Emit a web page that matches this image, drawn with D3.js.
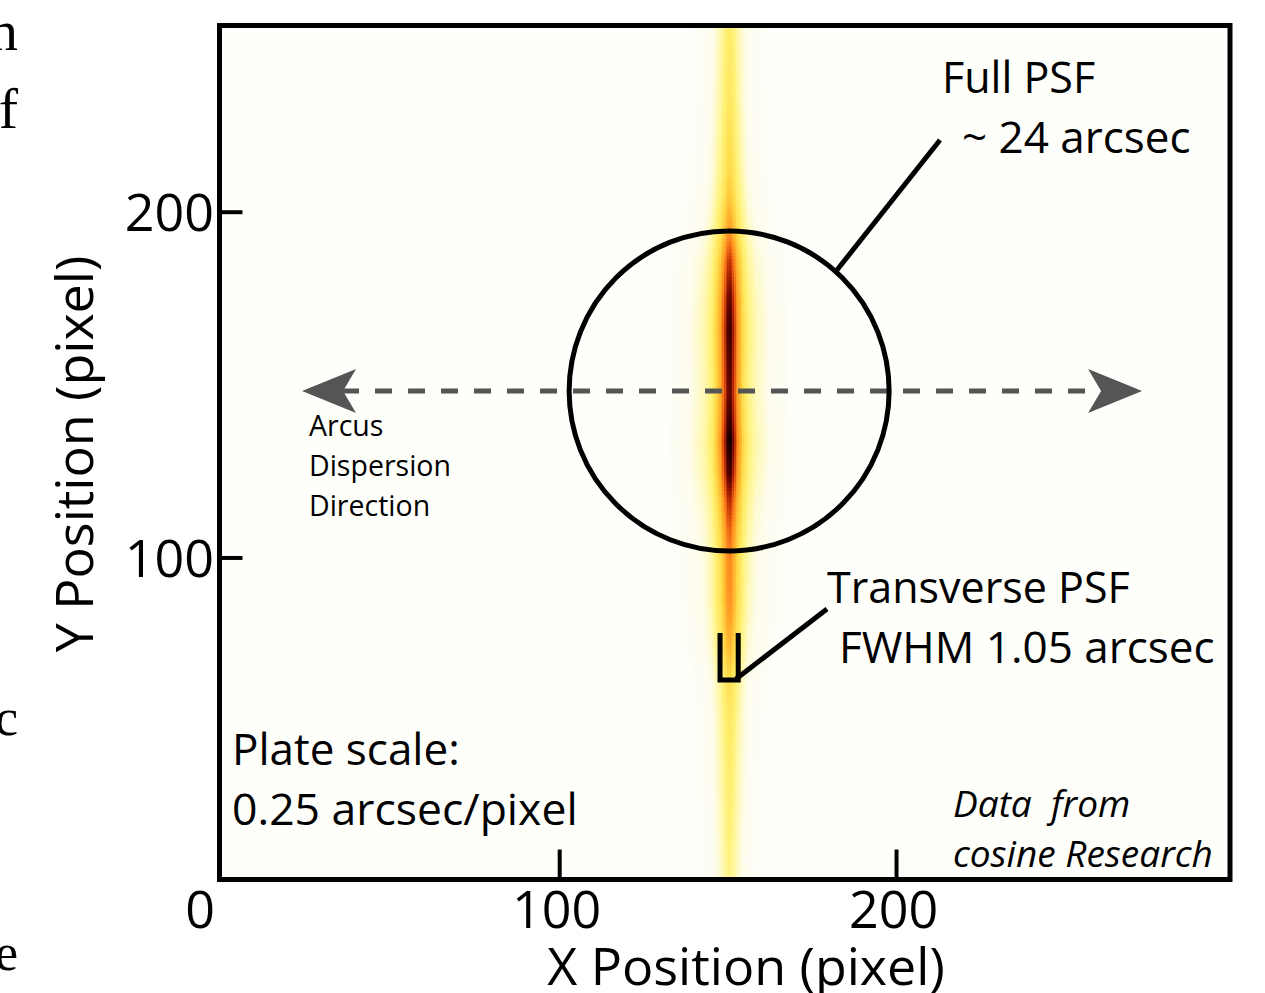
<!DOCTYPE html>
<meta charset="utf-8">
<head>
  <title>Arcus PSF</title>
</head>
<style>
body { margin: 0; background: #fff; }
svg { display: block; font-family: "Open Sans", sans-serif; }
</style>
<body>
<svg id="chart" width="1265" height="993"></svg>
<script src="https://cdnjs.cloudflare.com/ajax/libs/d3/7.8.5/d3.min.js"></script>
<script>
// tick values
var xTicks = [100, 200];
var yTicks = [100, 200];

// peak intensity of the streak along y (0 = blank, 1 = black)
var rowY    = [8, 18, 36, 53, 65, 76, 88, 99, 108, 117, 125, 134, 140, 148, 157, 166, 175, 186, 195, 204, 212, 233, 254];
var rowPeak = [0.07, 0.08, 0.1, 0.12, 0.16, 0.3, 0.4, 0.42, 0.5, 0.66, 0.88, 1.0, 0.9, 0.82, 0.86, 0.9, 0.82, 0.62, 0.36, 0.24, 0.18, 0.13, 0.11];

// transverse fall-off of the streak (offset in pixels from the centre)
var crossOffset = [0, 0.6, 1.2, 2, 3, 4, 5.3, 7.4, 12, 20];
var crossLevel  = [1, 0.92, 0.75, 0.52, 0.34, 0.2, 0.1, 0.045, 0.014, 0];
var streakX = 150.4;

// colour map
var cmapLevel = [0, 0.015, 0.04, 0.08, 0.16, 0.28, 0.4, 0.52, 0.64, 0.76, 0.88, 1];
var cmapColor = ["#fefefa", "#fefcea", "#fff8b0", "#fff27a", "#ffe050", "#ffb830", "#ff9020", "#e85c10", "#b82c02", "#780a00", "#3c0000", "#080000"];

// annotation geometry (data pixels)
var psfCircle = {x: 150.3, y: 148.3, r: 47.5};
var arrowEnds = [23.5, 272.9];
var fwhmBox = [147.6, 153, 78.3, 64.7];

var svg = d3.select("#chart");
var x = d3.scaleLinear().domain([-1, 299]).range([219.5, 1230]);
var y = d3.scaleLinear().domain([7, 254]).range([879.5, 25.5]);

var peak = d3.scaleLinear().domain(rowY).range(rowPeak).clamp(true);
var cross = d3.scaleLinear().domain(crossOffset).range(crossLevel).clamp(true);
var color = d3.scaleLinear().domain(cmapLevel).range(cmapColor).clamp(true);

// page text cut off at the left edge
var serif = [["n", 50, 58], ["f", 128, 58], ["c", 735, 52], ["e", 970, 52]];
svg.selectAll("text.page").data(serif).enter().append("text")
  .attr("class", "page")
  .attr("x", 18).attr("y", d => d[1])
  .attr("text-anchor", "end")
  .style("font-family", "'Liberation Serif', serif")
  .style("font-size", d => d[2] + "px")
  .text(d => d[0]);

// plot background
svg.append("rect")
  .attr("x", x(-1)).attr("y", y(254))
  .attr("width", x(299) - x(-1)).attr("height", y(7) - y(254))
  .attr("fill", cmapColor[0]);

// heat map cells
var cells = [];
d3.range(8, 254, 1).forEach(function(yy) {
  d3.range(128, 173, 0.5).forEach(function(xx) {
    var v = peak(yy) * cross(Math.abs(xx - streakX));
    if (v > 0.003) cells.push({x: xx, y: yy, v: v});
  });
});
var cw = x(0.5) - x(0), ch = y(0) - y(1);
svg.append("g").selectAll("rect").data(cells).enter().append("rect")
  .attr("x", d => x(d.x) - cw / 2)
  .attr("y", d => y(d.y) - ch / 2)
  .attr("width", cw + 0.6)
  .attr("height", ch + 0.6)
  .attr("fill", d => color(d.v))
  .attr("shape-rendering", "crispEdges");

// frame
svg.append("rect")
  .attr("x", x(-1)).attr("y", y(254))
  .attr("width", x(299) - x(-1)).attr("height", y(7) - y(254))
  .attr("fill", "none").attr("stroke", "#000").attr("stroke-width", 5);

// ticks
svg.selectAll("line.xt").data(xTicks).enter().append("line")
  .attr("x1", d => x(d)).attr("x2", d => x(d))
  .attr("y1", y(7)).attr("y2", y(7) - 30)
  .attr("stroke", "#000").attr("stroke-width", 4);
svg.selectAll("line.yt").data(yTicks).enter().append("line")
  .attr("x1", x(-1)).attr("x2", x(-1) + 23)
  .attr("y1", d => y(d)).attr("y2", d => y(d))
  .attr("stroke", "#000").attr("stroke-width", 4);

svg.selectAll("text.xl").data(xTicks).enter().append("text")
  .attr("x", d => x(d) - 3).attr("y", 928)
  .attr("text-anchor", "middle").style("font-size", "52px")
  .text(d => d);
svg.selectAll("text.yl").data(yTicks).enter().append("text")
  .attr("x", 214).attr("y", d => y(d) + 19)
  .attr("text-anchor", "end").style("font-size", "52px")
  .text(d => d);
svg.append("text").attr("x", 200).attr("y", 928)
  .attr("text-anchor", "middle").style("font-size", "52px").text("0");

// axis titles
svg.append("text").attr("x", 746).attr("y", 985)
  .attr("text-anchor", "middle").style("font-size", "52px")
  .text("X Position (pixel)");
svg.append("text").attr("transform", "translate(93,454) rotate(-90)")
  .attr("text-anchor", "middle").style("font-size", "52px")
  .text("Y Position (pixel)");

// dispersion direction arrow
var ay = y(psfCircle.y);
svg.append("line")
  .attr("x1", x(arrowEnds[0]) + 40).attr("x2", x(arrowEnds[1]) - 40)
  .attr("y1", ay).attr("y2", ay)
  .attr("stroke", "#555").attr("stroke-width", 5)
  .attr("stroke-dasharray", "17,16");
var head = "M0,0 L54,-22 L41,0 L54,22 Z";
svg.append("path").attr("d", head).attr("fill", "#555")
  .attr("transform", "translate(" + x(arrowEnds[0]) + "," + ay + ")");
svg.append("path").attr("d", head).attr("fill", "#555")
  .attr("transform", "translate(" + x(arrowEnds[1]) + "," + ay + ") scale(-1,1)");

svg.append("text").attr("x", 309).attr("y", 436).style("font-size", "28.5px")
  .selectAll("tspan").data(["Arcus", "Dispersion", "Direction"]).enter().append("tspan")
  .attr("x", 309).attr("dy", (d, i) => i ? 40 : 0).text(d => d);

// full PSF circle
svg.append("circle")
  .attr("cx", x(psfCircle.x)).attr("cy", y(psfCircle.y))
  .attr("r", x(psfCircle.r) - x(0))
  .attr("fill", "none").attr("stroke", "#000").attr("stroke-width", 5);
svg.append("line").attr("x1", 837).attr("y1", 270).attr("x2", 940).attr("y2", 140)
  .attr("stroke", "#000").attr("stroke-width", 5);
svg.append("text").attr("x", 942).attr("y", 93).style("font-size", "43px").text("Full PSF");
svg.append("text").attr("x", 962).attr("y", 153).style("font-size", "44px").text("~ 24 arcsec");

// transverse PSF bracket
svg.append("path")
  .attr("d", "M" + x(fwhmBox[0]) + "," + y(fwhmBox[2]) + " V" + y(fwhmBox[3]) +
             " H" + x(fwhmBox[1]) + " V" + y(fwhmBox[2]))
  .attr("fill", "none").attr("stroke", "#000").attr("stroke-width", 5);
svg.append("line").attr("x1", 736).attr("y1", 679).attr("x2", 827).attr("y2", 609)
  .attr("stroke", "#000").attr("stroke-width", 5);
svg.append("text").attr("x", 827).attr("y", 603).style("font-size", "43px").text("Transverse PSF");
svg.append("text").attr("x", 839).attr("y", 663).style("font-size", "44px").text("FWHM 1.05 arcsec");

// plate scale & credit
svg.append("text").attr("x", 232).attr("y", 765).style("font-size", "44px").text("Plate scale:");
svg.append("text").attr("x", 232).attr("y", 825).style("font-size", "44.5px").text("0.25 arcsec/pixel");
svg.append("text").attr("x", 953).attr("y", 817).style("font-size", "37px").style("font-style", "italic")
  .attr("xml:space", "preserve").text("Data  from");
svg.append("text").attr("x", 953).attr("y", 867).style("font-size", "37px").style("font-style", "italic")
  .text("cosine Research");
</script>
</body>
</html>
